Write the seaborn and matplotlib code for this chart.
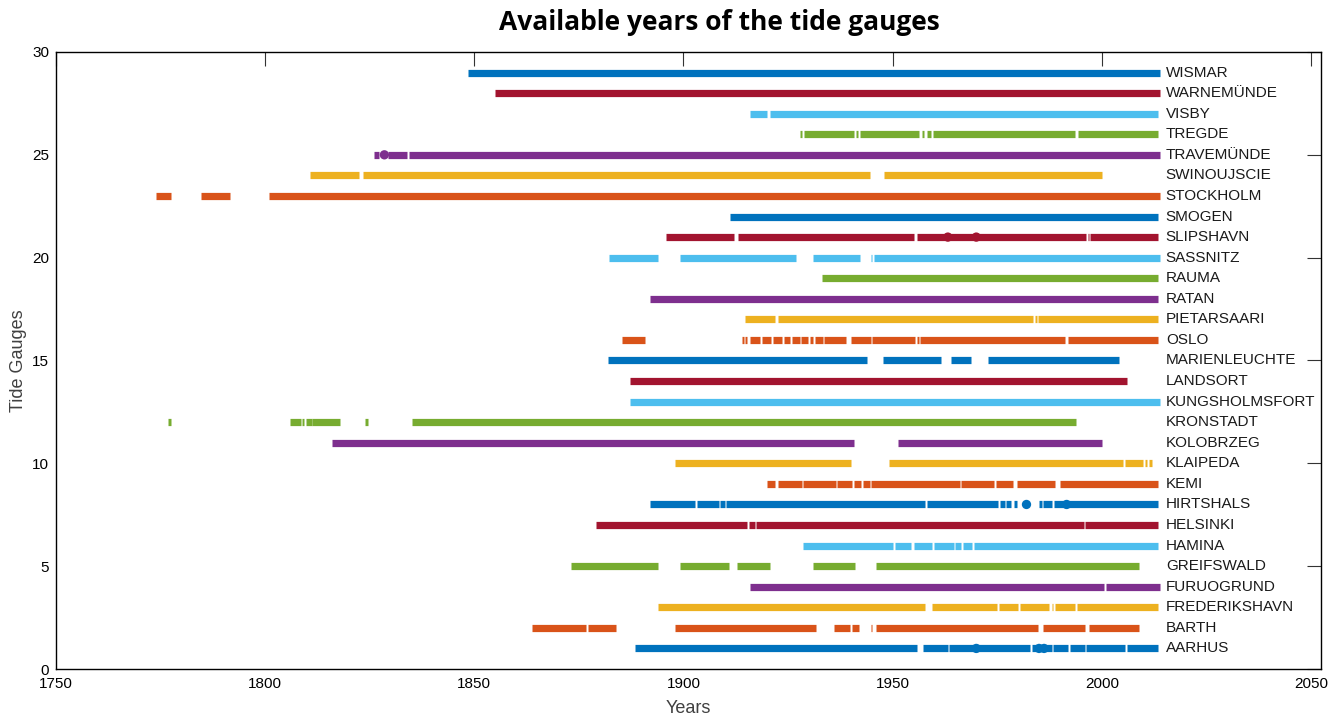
import pandas as pd
import matplotlib
matplotlib.use("Agg")
import matplotlib.pyplot as plt
import seaborn as sns

# Station names, bottom (y=1) to top (y=29)
stations = ["AARHUS", "BARTH", "FREDERIKSHAVN", "FURUOGRUND", "GREIFSWALD",
            "HAMINA", "HELSINKI", "HIRTSHALS", "KEMI", "KLAIPEDA", "KOLOBRZEG",
            "KRONSTADT", "KUNGSHOLMSFORT", "LANDSORT", "MARIENLEUCHTE", "OSLO",
            "PIETARSAARI", "RATAN", "RAUMA", "SASSNITZ", "SLIPSHAVN", "SMOGEN",
            "STOCKHOLM", "SWINOUJSCIE", "TRAVEMÜNDE", "TREGDE", "VISBY",
            "WARNEMÜNDE", "WISMAR"]

# Available periods (start year, end year)
aarhus = [(1888.5, 1955.9), (1957.2, 1963.2), (1963.5, 1982.8), (1983.3, 1984.5),
          (1985.0, 1988.0), (1988.3, 1991.9), (1992.3, 1995.9), (1996.3, 2005.5), (2006.0, 2013.5)]
barth = [(1863.7, 1876.7), (1877.2, 1883.9), (1898.0, 1931.6), (1935.9, 1939.7),
         (1940.2, 1941.9), (1944.8, 1945.1), (1946.0, 1984.8), (1986.0, 1996.0), (1996.9, 2008.9)]
frederikshavn = [(1894.0, 1957.7), (1959.4, 1975.0), (1975.5, 1980.0), (1980.4, 1987.5),
                 (1988.0, 1988.3), (1988.7, 1993.5), (1994.0, 2013.5)]
furuogrund = [(1916.0, 2000.5), (2000.9, 2014.0)]
greifswald = [(1873.1, 1894.0), (1899.1, 1910.8), (1912.8, 1920.6), (1930.9, 1940.9), (1946.0, 2008.9)]
hamina = [(1928.5, 1950.0), (1950.5, 1954.3), (1955.0, 1959.4), (1959.9, 1964.6),
          (1965.0, 1966.4), (1966.8, 1969.0), (1969.4, 2013.5)]
helsinki = [(1879.1, 1915.3), (1915.6, 1917.0), (1917.4, 1995.7), (1996.1, 2013.5)]
hirtshals = [(1891.9, 1902.8), (1903.2, 1908.4), (1908.8, 1909.9), (1910.2, 1957.7),
             (1958.1, 1975.2), (1975.7, 1976.8), (1977.2, 1978.4), (1978.9, 1979.8),
             (1984.9, 1985.7), (1986.0, 1988.0), (1988.5, 2013.5)]
kemi = [(1920.0, 1921.9), (1922.6, 1928.3), (1928.6, 1936.4), (1936.7, 1940.4),
        (1940.7, 1942.5), (1942.9, 1944.5), (1944.8, 1966.0), (1966.3, 1974.2),
        (1974.6, 1978.8), (1979.7, 1988.9), (1990.0, 2013.5)]
klaipeda = [(1898.0, 1940.0), (1949.1, 2005.1), (2005.5, 2009.9), (2010.3, 2010.8), (2011.2, 2012.0)]
kolobrzeg = [(1815.9, 1940.7), (1951.3, 2000.0)]
kronstadt = [(1776.7, 1777.6), (1805.9, 1808.5), (1808.9, 1809.3), (1809.7, 1811.1),
             (1811.3, 1817.9), (1823.9, 1824.7), (1835.1, 1993.9)]
kungsholmsfort = [(1887.1, 2014.0)]
landsort = [(1887.1, 2006.0)]
marienleuchte = [(1881.9, 1943.9), (1947.7, 1961.6), (1964.0, 1968.8), (1972.9, 2004.0)]
oslo = [(1885.4, 1890.8), (1914.0, 1914.4), (1914.7, 1915.2), (1916.0, 1918.3),
        (1918.8, 1921.0), (1921.5, 1923.5), (1924.0, 1925.5), (1926.0, 1927.8),
        (1928.2, 1929.8), (1930.2, 1931.0), (1931.4, 1933.3), (1933.7, 1938.9),
        (1940.0, 1944.8), (1945.1, 1955.4), (1955.8, 1956.2), (1956.6, 1991.1), (1992.0, 2013.5)]
pietarsaari = [(1914.6, 1922.0), (1922.6, 1983.5), (1984.0, 1984.4), (1984.8, 2013.5)]
ratan = [(1891.9, 2013.5)]
rauma = [(1933.1, 2013.5)]
sassnitz = [(1882.3, 1893.9), (1899.1, 1926.8), (1930.9, 1942.2), (1944.8, 1945.1), (1945.5, 2014.0)]
slipshavn = [(1895.9, 1912.0), (1913.1, 1955.1), (1955.9, 1996.2), (1996.6, 1997.0), (1997.3, 2013.5)]
smogen = [(1911.1, 2013.5)]
stockholm = [(1774.0, 1777.6), (1784.7, 1791.5), (1800.8, 2014.0)]
swinoujscie = [(1810.8, 1822.5), (1823.4, 1944.7), (1948.0, 2000.0)]
travemunde = [(1826.0, 1827.3), (1829.3, 1833.9), (1834.4, 2014.0)]
tregde = [(1927.8, 1928.4), (1928.7, 1940.7), (1941.2, 1941.8), (1942.3, 1956.2),
          (1957.1, 1957.6), (1958.1, 1959.2), (1959.6, 1993.6), (1994.3, 2013.5)]
visby = [(1916.0, 1919.9), (1920.7, 2013.5)]
warnemunde = [(1855.0, 2014.0)]
wismar = [(1848.6, 2014.0)]

periods = [aarhus, barth, frederikshavn, furuogrund, greifswald, hamina, helsinki,
           hirtshals, kemi, klaipeda, kolobrzeg, kronstadt, kungsholmsfort, landsort,
           marienleuchte, oslo, pietarsaari, ratan, rauma, sassnitz, slipshavn, smogen,
           stockholm, swinoujscie, travemunde, tregde, visby, warnemunde, wismar]

# Single-year points drawn as dots (station, year)
dot_station = ["TRAVEMÜNDE", "SLIPSHAVN", "SLIPSHAVN", "HIRTSHALS", "HIRTSHALS",
               "AARHUS", "AARHUS", "AARHUS"]
dot_year = [1828.5, 1963.2, 1970.0, 1982.0, 1991.6, 1970.0, 1985.0, 1986.2]

matlab_colors = ["#0072BD", "#D95319", "#EDB120", "#7E2F8E", "#77AC30", "#4DBEEE", "#A2142F"]

# long table: one row per segment end
rows = []
seg = 0
for i, (name, segs) in enumerate(zip(stations, periods)):
    for a, b in segs:
        rows.append({"station": name, "pos": i + 1, "seg": seg, "year": a})
        rows.append({"station": name, "pos": i + 1, "seg": seg, "year": b})
        seg += 1
df = pd.DataFrame(rows)
palette = {s: matlab_colors[i % 7] for i, s in enumerate(stations)}

dots = pd.DataFrame({"station": dot_station, "year": dot_year})
dots["pos"] = [stations.index(s) + 1 for s in dot_station]

sns.set_theme(style="white")
plt.rcParams["font.family"] = ["Liberation Sans", "DejaVu Sans"]

fig = plt.figure(figsize=(13.43, 7.22), dpi=100)
ax = fig.add_axes([0.0417, 0.0734, 0.9419, 0.8546])

sns.lineplot(data=df, x="year", y="pos", hue="station", units="seg",
             estimator=None, sort=False, palette=palette, linewidth=5.2,
             solid_capstyle="butt", legend=False, ax=ax)
sns.scatterplot(data=dots, x="year", y="pos", hue="station", palette=palette,
                s=45, linewidth=0, legend=False, ax=ax)

for i, name in enumerate(stations):
    ax.text(2015.3, i + 1, name, fontsize=11, va="center", ha="left", color="#1a1a1a")

ax.set_xlim(1750, 2052.4)
ax.set_ylim(0, 30)
ax.set_xticks(range(1750, 2051, 50))
ax.set_yticks(range(0, 31, 5))
ax.tick_params(direction="in", length=10, width=0.8, top=True, right=True,
               labelsize=11, color="#333333", labelcolor="black")
ax.tick_params(axis="x", pad=6)
ax.tick_params(axis="y", pad=5)
for sp in ax.spines.values():
    sp.set_color("black")
    sp.set_linewidth(1.0)

ax.set_xlabel("Years", fontsize=13, color="#404040", labelpad=6)
ax.set_ylabel("Tide Gauges", fontsize=13, color="#404040", labelpad=4)
fig.suptitle("Available years of the tide gauges", fontsize=19, fontweight="bold",
             family=["Open Sans", "DejaVu Sans"], color="black", x=0.536, y=0.988)

fig.savefig("out.png", dpi=100)
